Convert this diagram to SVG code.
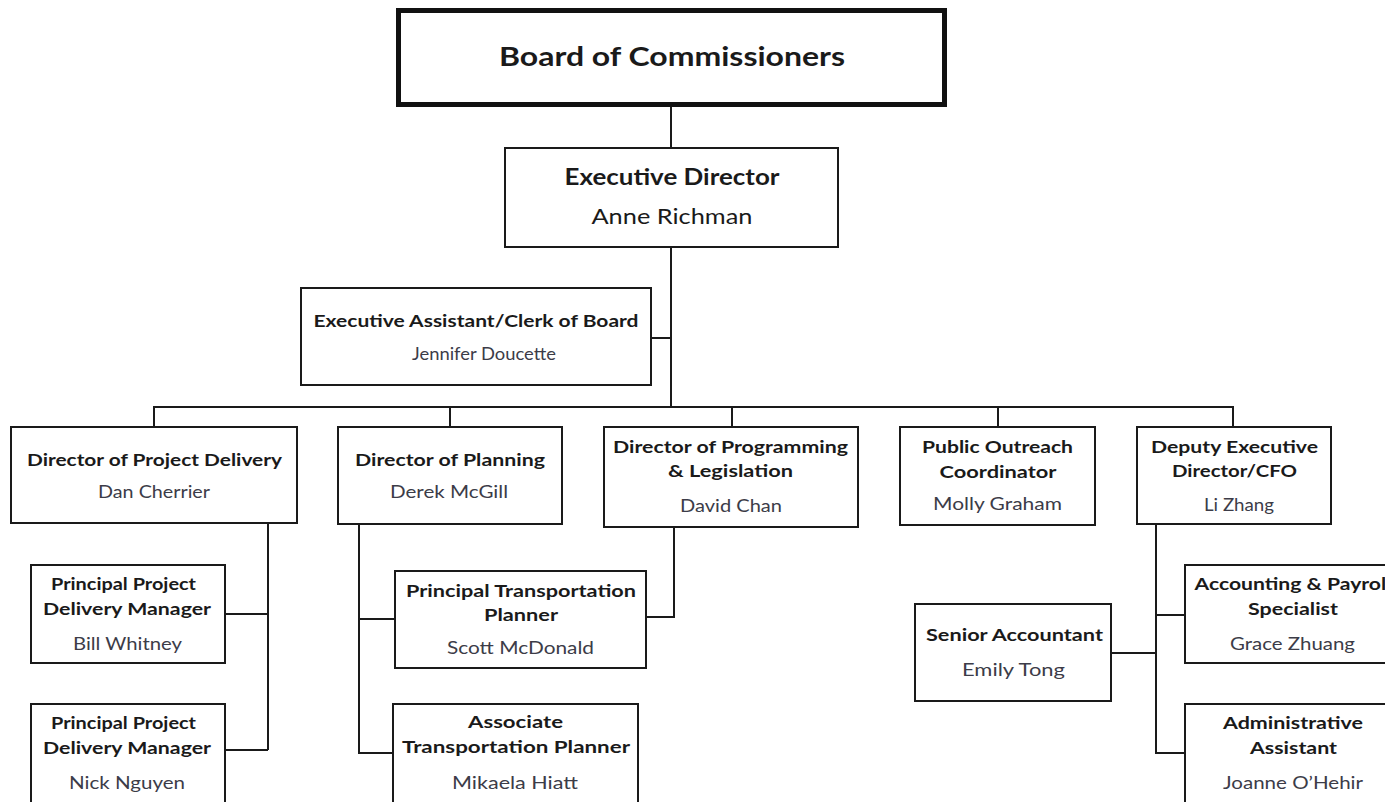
<svg xmlns="http://www.w3.org/2000/svg" width="1385" height="802" viewBox="0 0 1385 802">
<style>
.box{fill:#fff;stroke:#1a1a1a;stroke-width:2}
.t{font-family:Lato,"Open Sans",sans-serif;font-weight:bold;font-size:17px;fill:#1a1a1a;text-anchor:middle}
.n{font-family:Lato,"Open Sans",sans-serif;font-size:16.5px;fill:#3c3c48;text-anchor:middle}
.big{font-size:27px}
.mid{font-size:22px}
.c{fill:none;stroke:#1a1a1a;stroke-width:2}
</style>
<rect width="1385" height="802" fill="#fff"/>
<g id="connectors">
<path class="c" d="M671,105V148M671,247V407M651,338H671M154,427V407H1233V427M450,407V427M732,407V427M998,407V427"/>
<path class="c" d="M268,523V750M225,614H268M225,750H268"/>
<path class="c" d="M359,524V753H393M359,619H395M674,527V617H646"/>
<path class="c" d="M1156,524V753H1185M1156,615H1185M1111,653H1156"/>
</g>
<g id="board">
<rect x="398.5" y="10.5" width="546" height="94" fill="#fff" stroke="#111" stroke-width="5"/>
<text class="t big" x="672" y="66" textLength="346" lengthAdjust="spacingAndGlyphs">Board of Commissioners</text>
</g>
<g id="exec">
<rect class="box" x="505" y="148" width="333" height="99"/>
<text class="t mid" x="672" y="185" textLength="215" lengthAdjust="spacingAndGlyphs">Executive Director</text>
<text class="n mid" x="672" y="224" fill="#1a1a1a" textLength="161" lengthAdjust="spacingAndGlyphs" style="fill:#1a1a1a">Anne Richman</text>
</g>
<g id="assistant">
<rect class="box" x="301" y="288" width="350" height="97"/>
<text class="t" x="476" y="327" textLength="325" lengthAdjust="spacingAndGlyphs">Executive Assistant/Clerk of Board</text>
<text class="n" x="484" y="360" textLength="144" lengthAdjust="spacingAndGlyphs">Jennifer Doucette</text>
</g>
<g id="project-delivery">
<rect class="box" x="11" y="427" width="286" height="96"/>
<text class="t" x="154.5" y="466" textLength="255" lengthAdjust="spacingAndGlyphs">Director of Project Delivery</text>
<text class="n" x="154" y="498" textLength="112" lengthAdjust="spacingAndGlyphs">Dan Cherrier</text>
</g>
<g id="planning">
<rect class="box" x="338" y="427" width="224" height="97"/>
<text class="t" x="450" y="466" textLength="190" lengthAdjust="spacingAndGlyphs">Director of Planning</text>
<text class="n" x="449" y="498" textLength="118" lengthAdjust="spacingAndGlyphs">Derek McGill</text>
</g>
<g id="programming">
<rect class="box" x="604" y="427" width="254" height="100"/>
<text class="t" x="730.5" y="453" textLength="235" lengthAdjust="spacingAndGlyphs">Director of Programming</text>
<text class="t" x="730.5" y="477" textLength="125" lengthAdjust="spacingAndGlyphs">&amp; Legislation</text>
<text class="n" x="731" y="512" textLength="102" lengthAdjust="spacingAndGlyphs">David Chan</text>
</g>
<g id="outreach">
<rect class="box" x="900" y="427" width="195" height="98"/>
<text class="t" x="997.5" y="453" textLength="151" lengthAdjust="spacingAndGlyphs">Public Outreach</text>
<text class="t" x="998" y="478" textLength="117" lengthAdjust="spacingAndGlyphs">Coordinator</text>
<text class="n" x="997.5" y="510" textLength="129" lengthAdjust="spacingAndGlyphs">Molly Graham</text>
</g>
<g id="deputy">
<rect class="box" x="1137" y="427" width="194" height="97"/>
<text class="t" x="1234.5" y="453" textLength="167" lengthAdjust="spacingAndGlyphs">Deputy Executive</text>
<text class="t" x="1234.5" y="477" textLength="125" lengthAdjust="spacingAndGlyphs">Director/CFO</text>
<text class="n" x="1239" y="511" textLength="70" lengthAdjust="spacingAndGlyphs">Li Zhang</text>
</g>
<g id="ppdm1">
<rect class="box" x="31" y="565" width="194" height="98"/>
<text class="t" x="123.5" y="590" textLength="145" lengthAdjust="spacingAndGlyphs">Principal Project</text>
<text class="t" x="127" y="615" textLength="168" lengthAdjust="spacingAndGlyphs">Delivery Manager</text>
<text class="n" x="127.5" y="650" textLength="109" lengthAdjust="spacingAndGlyphs">Bill Whitney</text>
</g>
<g id="ppdm2">
<rect class="box" x="31" y="704" width="194" height="100"/>
<text class="t" x="123.5" y="729" textLength="145" lengthAdjust="spacingAndGlyphs">Principal Project</text>
<text class="t" x="127" y="754" textLength="168" lengthAdjust="spacingAndGlyphs">Delivery Manager</text>
<text class="n" x="127" y="789" textLength="116" lengthAdjust="spacingAndGlyphs">Nick Nguyen</text>
</g>
<g id="ptp">
<rect class="box" x="395" y="571" width="251" height="97"/>
<text class="t" x="521" y="597" textLength="230" lengthAdjust="spacingAndGlyphs">Principal Transportation</text>
<text class="t" x="521" y="621" textLength="74" lengthAdjust="spacingAndGlyphs">Planner</text>
<text class="n" x="520.5" y="654" textLength="147" lengthAdjust="spacingAndGlyphs">Scott McDonald</text>
</g>
<g id="atp">
<rect class="box" x="393" y="704" width="245" height="100"/>
<text class="t" x="515.5" y="728" textLength="95" lengthAdjust="spacingAndGlyphs">Associate</text>
<text class="t" x="516" y="753" textLength="228" lengthAdjust="spacingAndGlyphs">Transportation Planner</text>
<text class="n" x="515" y="789" textLength="126" lengthAdjust="spacingAndGlyphs">Mikaela Hiatt</text>
</g>
<g id="senior-accountant">
<rect class="box" x="915" y="604" width="196" height="97"/>
<text class="t" x="1014.5" y="641" textLength="177" lengthAdjust="spacingAndGlyphs">Senior Accountant</text>
<text class="n" x="1013.5" y="676" textLength="103" lengthAdjust="spacingAndGlyphs">Emily Tong</text>
</g>
<g id="accounting">
<rect class="box" x="1185" y="565" width="215" height="98"/>
<text class="t" x="1293" y="590" textLength="197" lengthAdjust="spacingAndGlyphs">Accounting &amp; Payroll</text>
<text class="t" x="1293" y="615" textLength="90" lengthAdjust="spacingAndGlyphs">Specialist</text>
<text class="n" x="1292.5" y="650" textLength="125" lengthAdjust="spacingAndGlyphs">Grace Zhuang</text>
</g>
<g id="admin">
<rect class="box" x="1185" y="704" width="215" height="100"/>
<text class="t" x="1293" y="729" textLength="140" lengthAdjust="spacingAndGlyphs">Administrative</text>
<text class="t" x="1293.5" y="754" textLength="87" lengthAdjust="spacingAndGlyphs">Assistant</text>
<text class="n" x="1293" y="789" textLength="140" lengthAdjust="spacingAndGlyphs">Joanne O’Hehir</text>
</g>
</svg>
